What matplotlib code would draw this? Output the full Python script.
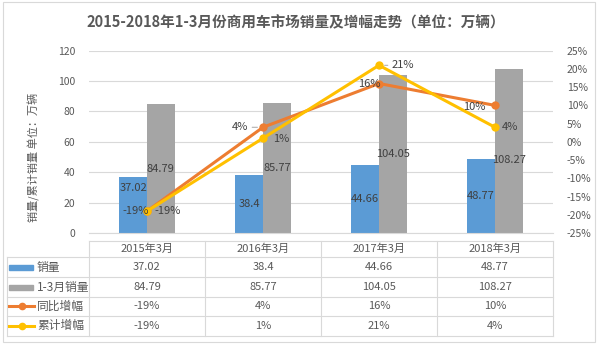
import matplotlib
matplotlib.use("Agg")
import matplotlib.pyplot as plt
from matplotlib.transforms import blended_transform_factory
from matplotlib.patches import Rectangle
from matplotlib.lines import Line2D

plt.rcParams['font.family'] = ['Noto Sans CJK SC', 'DejaVu Sans']

# datos
categorias = ["2015年3月", "2016年3月", "2017年3月", "2018年3月"]
ventas = [37.02, 38.4, 44.66, 48.77]
ventas_acum = [84.79, 85.77, 104.05, 108.27]
tongbi = [-19, 4, 16, 10]
leiji = [-19, 1, 21, 4]

titulo = "2015-2018年1-3月份商用车市场销量及增幅走势（单位：万辆）"
ylabel = "销量/累计销量 单位：万辆"
series = ["销量", "1-3月销量", "同比增幅", "累计增幅"]

AZUL = "#5B9BD5"
GRIS = "#A5A5A5"
NARANJA = "#ED7D31"
AMARILLO = "#FFC000"
TXT = "#595959"
LINEA = "#D9D9D9"

W, H = 600, 348
fig = plt.figure(figsize=(W / 100, H / 100), dpi=100)


def fx(px):
    return px / W


def fy(py):
    return 1 - py / H


# area del grafico (pixeles)
x0, x1 = 89, 553
y0, y1 = 50.7, 233
ax = fig.add_axes([fx(x0), fy(y1), fx(x1 - x0), (y1 - y0) / H])
ax2 = ax.twinx()

n = len(categorias)
xs = list(range(n))
ancho = 0.24

ax.set_xlim(-0.5, n - 0.5)
ax.set_ylim(0, 120)
ax.set_yticks(range(0, 121, 20))
ax.grid(axis="y", color=LINEA, linewidth=0.8)
ax.set_axisbelow(True)
for s in ax.spines.values():
    s.set_visible(False)
for s in ax2.spines.values():
    s.set_visible(False)
ax.spines["bottom"].set_visible(True)
ax.spines["bottom"].set_color(LINEA)
ax.set_xticks([])
ax.tick_params(axis="y", length=0, labelsize=7.5, labelcolor=TXT, pad=10)

b1 = ax.bar([x - ancho / 2 for x in xs], ventas, ancho, color=AZUL)
b2 = ax.bar([x + ancho / 2 for x in xs], ventas_acum, ancho, color=GRIS)

# etiquetas de barras (centro, con pequeños ajustes en pixeles)
ajuste_azul = [17, 0, 0, 0]
ajuste_gris = [0, 0, 0, -9]
for i in range(n):
    ax.annotate(f"{ventas[i]:g}", (xs[i] - ancho / 2, ventas[i] / 2),
                xytext=(0, ajuste_azul[i]), textcoords="offset pixels",
                ha="center", va="center", fontsize=8, color="#404040")
    ax.annotate(f"{ventas_acum[i]:g}", (xs[i] + ancho / 2, ventas_acum[i] / 2),
                xytext=(0, ajuste_gris[i]), textcoords="offset pixels",
                ha="center", va="center", fontsize=8, color="#404040")

ax2.set_ylim(-25, 25)
ax2.set_yticks(range(-25, 26, 5))
ax2.set_yticklabels([f"{v}%" for v in range(-25, 26, 5)])
ax2.tick_params(axis="y", length=0, labelsize=7.5, labelcolor=TXT, pad=10)

ax2.plot(xs, tongbi, color=NARANJA, lw=2.2, marker="o", ms=5, zorder=3)
ax2.plot(xs, leiji, color=AMARILLO, lw=2.2, marker="o", ms=5, zorder=4)

# etiquetas de lineas (desplazamiento en pixeles)
off_tongbi = [(2, 0), (-15, 0), (2, 0), (-10, -2)]
off_leiji = [(7, 0), (10, -1), (13, 0), (7, 0)]
for i in range(n):
    dx, dy = off_tongbi[i]
    ax2.annotate(f"{tongbi[i]}%", (xs[i], tongbi[i]), xytext=(dx, dy),
                 textcoords="offset pixels", ha="right", va="center",
                 fontsize=8, color="#404040", zorder=6,
                 arrowprops=dict(arrowstyle="-", color="#A6A6A6", lw=0.7,
                                 shrinkA=1, shrinkB=4) if abs(dx) > 12 else None)
    dx, dy = off_leiji[i]
    ax2.annotate(f"{leiji[i]}%", (xs[i], leiji[i]), xytext=(dx, dy),
                 textcoords="offset pixels", ha="left", va="center",
                 fontsize=8, color="#404040", zorder=6,
                 arrowprops=dict(arrowstyle="-", color="#A6A6A6", lw=0.7,
                                 shrinkA=1, shrinkB=4) if abs(dx) > 12 else None)

# titulo y eje
fig.text(fx(296), fy(22), titulo, ha="center", va="center", fontsize=10.5,
         fontweight="bold", color=TXT)
fig.text(fx(34), fy(157), ylabel, ha="center", va="center", rotation=90,
         fontsize=8, color=TXT)

# tabla de datos
tr = blended_transform_factory(ax.transData, fig.transFigure)
filas = [240.7, 257, 277.3, 296.7, 316, 336]
borde_izq = 7


def hline(xa, xb, py, t):
    fig.add_artist(Line2D([xa, xb], [fy(py), fy(py)], transform=t,
                          color=LINEA, lw=0.8))


def vline(x, pa, pb, t):
    fig.add_artist(Line2D([x, x], [fy(pa), fy(pb)], transform=t,
                          color=LINEA, lw=0.8))


hline(-0.5, n - 0.5, filas[0], tr)
for py in filas[1:]:
    hline(fx(borde_izq), fx(x1), py, fig.transFigure)
vline(fx(borde_izq), filas[1], filas[-1], fig.transFigure)
for k in range(n + 1):
    vline(k - 0.5, filas[0], filas[-1], tr)

for i, c in enumerate(categorias):
    fig.text(i, fy((filas[0] + filas[1]) / 2), c, transform=tr,
             ha="center", va="center", fontsize=8, color=TXT)

valores = [
    [f"{v:g}" for v in ventas],
    [f"{v:g}" for v in ventas_acum],
    [f"{v}%" for v in tongbi],
    [f"{v}%" for v in leiji],
]
for r in range(4):
    cy = fy((filas[r + 1] + filas[r + 2]) / 2)
    for i in range(n):
        fig.text(i, cy, valores[r][i], transform=tr, ha="center",
                 va="center", fontsize=8, color=TXT)
    fig.text(fx(37), cy, series[r], ha="left", va="center", fontsize=8.5,
             color=TXT)

# claves de la leyenda
cy = [(filas[r + 1] + filas[r + 2]) / 2 for r in range(4)]
for r, col in enumerate([AZUL, GRIS]):
    fig.add_artist(Rectangle((fx(9), fy(cy[r] + 2.5)), fx(24), 5 / H,
                             transform=fig.transFigure, color=col))
for r, col in [(2, NARANJA), (3, AMARILLO)]:
    fig.add_artist(Line2D([fx(9), fx(34)], [fy(cy[r]), fy(cy[r])],
                          transform=fig.transFigure, color=col, lw=2.2))
    fig.add_artist(Line2D([fx(22)], [fy(cy[r])], transform=fig.transFigure,
                          color=col, marker="o", ms=4.5))

# borde del area del grafico
fig.add_artist(Rectangle((fx(3), fy(342)), fx(592), 340 / H,
                         transform=fig.transFigure, fill=False,
                         edgecolor=LINEA, lw=0.8))

fig.savefig("out.png", dpi=100)
